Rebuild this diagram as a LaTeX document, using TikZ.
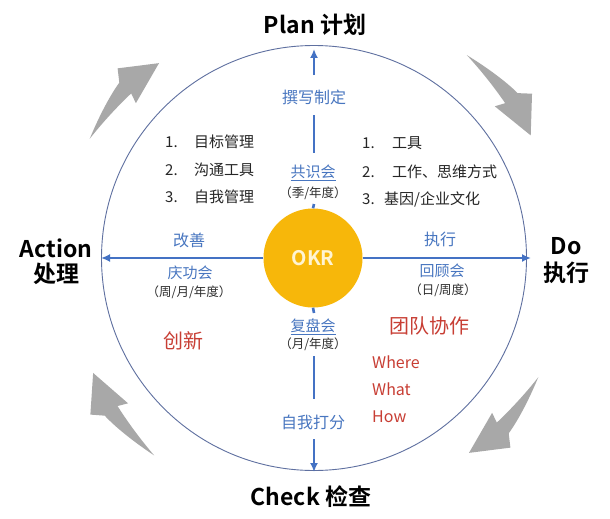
\documentclass[tikz,border=0pt]{standalone}
\usepackage{fontspec}
\setmainfont{Noto Sans CJK SC}[BoldFont={Noto Sans CJK SC Bold}]
\usetikzlibrary{arrows.meta}
\definecolor{axisblue}{RGB}{68,114,196}
\definecolor{ringblue}{RGB}{95,112,160}
\definecolor{lblblue}{RGB}{72,118,192}
\definecolor{okrgold}{RGB}{247,183,10}
\definecolor{okrtext}{RGB}{255,244,210}
\definecolor{redtxt}{RGB}{200,62,52}
\definecolor{arrowgray}{RGB}{168,168,168}
\newcommand\cycarrow[1]{%
  \fill[arrowgray] ({-(#1)}:254) .. controls ({-(#1-6)}:258) and ({-(#1-11)}:261) .. ({-(#1-14)}:262)
    -- ({-(#1-16)}:273) -- ({-(#1-23.5)}:249) -- ({-(#1-13)}:236) -- ({-(#1-14)}:246)
    .. controls ({-(#1-10)}:248) and ({-(#1-5)}:251) .. cycle;}
\begin{document}
\begin{tikzpicture}[x=1pt,y=-1pt,
  phase/.style={font=\fontsize{23}{26}\selectfont\bfseries, text=black, inner sep=0pt},
  bluelbl/.style={font=\fontsize{16}{18}\selectfont, text=lblblue, inner sep=1pt},
  meetlbl/.style={font=\fontsize{15}{17}\selectfont, text=lblblue, inner sep=1pt},
  periodlbl/.style={font=\fontsize{12.5}{14}\selectfont, text=black!82, inner sep=1pt},
  itemlbl/.style={font=\fontsize{15}{17}\selectfont, text=black!85, inner sep=0pt, anchor=west},
  redlbl/.style={font=\fontsize{20}{22}\selectfont, text=redtxt, inner sep=0pt},
  redsmall/.style={font=\fontsize{16}{18}\selectfont, text=redtxt, inner sep=0pt, anchor=west},
  axisline/.style={draw=axisblue, line width=2.6pt},
  axisarrow/.style={-{Latex[length=9pt,width=8pt]}}
]
\useasboundingbox (0,0) rectangle (610,519);
\fill[white] (0,0) rectangle (610,519);

% gray cycle arrows
\begin{scope}[shift={(314,258)}]
  \cycarrow{152}
  \cycarrow{53}
  \cycarrow{-28}
  \cycarrow{231}
\end{scope}

% ring and centre
\node[circle, draw=ringblue, line width=0.9pt, minimum size=425pt, inner sep=0pt] (ring) at (314,258) {};
\node[circle, fill=okrgold, minimum size=99pt, inner sep=0pt,
      font=\fontsize{20}{22}\selectfont\bfseries, text=okrtext] (okr) at (313,258) {OKR};

% axis end points
\coordinate (ptop) at (314,49);
\coordinate (pbot) at (314,472);
\coordinate (pleft) at (101,258);
\coordinate (pright) at (531,258);

% phase labels
\node[phase] (plan) at (315,25) {Plan 计划};
\node[phase] (action) at (56,248) {Action};
\node[phase] (actioncn) at (56,274) {处理};
\node[phase] (do) at (566,246) {Do};
\node[phase] (docn) at (566,273) {执行};
\node[phase] (check) at (311,497) {Check 检查};

% vertical labels
\node[bluelbl] (zhiding) at (314,97) {撰写制定};
\node[meetlbl] (gongshi) at (313,173) {\underline{共识会}};
\node[periodlbl] (gongshiT) at (313,193) {（季/年度）};
\node[meetlbl] (fupan) at (313,327) {\underline{复盘会}};
\node[periodlbl] (fupanT) at (313,344) {（月/年度）};
\node[bluelbl] (dafen) at (313,422) {自我打分};

% horizontal labels
\node[bluelbl] (gaishan) at (189,240) {改善};
\node[meetlbl] (qinggong) at (190,273) {庆功会};
\node[periodlbl] (qinggongT) at (189,292) {（周/月/年度）};
\node[bluelbl] (zhixing) at (440,239) {执行};
\node[meetlbl] (huigu) at (442,271) {回顾会};
\node[periodlbl] (huiguT) at (443,290) {（日/周度）};

% vertical axis segments
\coordinate (v1) at (314,75);
\coordinate (v2) at (314,115);
\coordinate (v3) at (314,153);
\coordinate (v4) at (314,204);
\coordinate (v5) at (314,313);
\coordinate (v6) at (314,356);
\coordinate (v7) at (314,399);
\coordinate (v8) at (314,439);
\draw[axisline, axisarrow] (v1) -- (ptop);
\draw[axisline] (v2) -- (v3);
\draw[axisline] (v4) -- (okr.north);
\draw[axisline] (okr.south) -- (v5);
\draw[axisline] (v6) -- (v7);
\draw[axisline, axisarrow] (v8) -- (pbot);
\draw[axisline, axisarrow] (okr.west) -- (pleft);
\draw[axisline, axisarrow] (okr.east) -- (pright);

% left list
\node[itemlbl] (l1n) at (165,142) {1.};
\node[itemlbl] (l1) at (194,142) {目标管理};
\node[itemlbl] (l2n) at (165,170) {2.};
\node[itemlbl] (l2) at (194,170) {沟通工具};
\node[itemlbl] (l3n) at (165,197) {3.};
\node[itemlbl] (l3) at (194,197) {自我管理};

% right list
\node[itemlbl] (r1n) at (362,143) {1.};
\node[itemlbl] (r1) at (392,143) {工具};
\node[itemlbl] (r2n) at (362,172) {2.};
\node[itemlbl] (r2) at (392,172) {工作、思维方式};
\node[itemlbl] (r3n) at (362,199) {3.};
\node[itemlbl] (r3) at (384,199) {基因/企业文化};

% red texts
\node[redlbl] (chuangxin) at (183,341) {创新};
\node[redlbl] (tuandui) at (429,326) {团队协作};
\node[redsmall] (where) at (372,362) {Where};
\node[redsmall] (what) at (372,389) {What};
\node[redsmall] (how) at (372,417) {How};
\end{tikzpicture}
\end{document}
